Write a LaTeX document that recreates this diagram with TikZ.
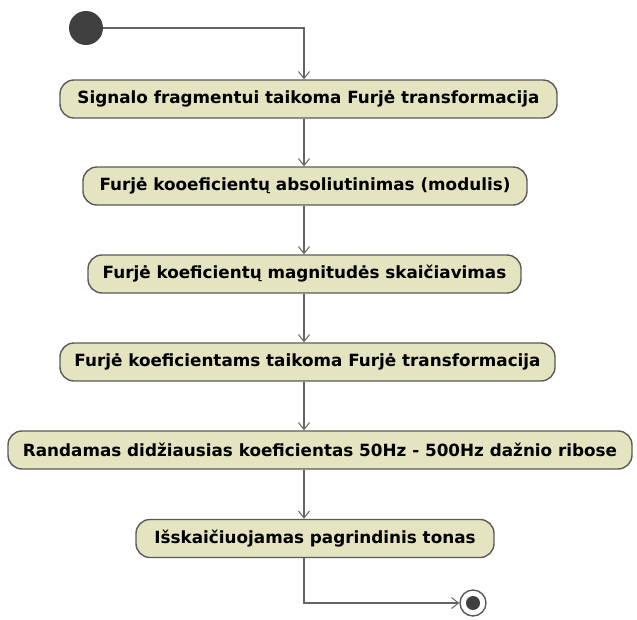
\documentclass[tikz,border=0pt]{standalone}
\usepackage{fontspec}
\setmainfont{DejaVu Sans}
\usetikzlibrary{arrows.meta}
\definecolor{actfill}{RGB}{228,228,192}
\definecolor{actline}{RGB}{90,90,90}
\definecolor{flowline}{RGB}{100,100,100}
\definecolor{dotfill}{RGB}{64,64,64}
\tikzset{
  activity/.style={draw=actline, line width=1.4pt, fill=actfill, rounded corners=14pt,
    minimum height=38pt, inner sep=0pt, font=\bfseries\fontsize{16.8}{20}\selectfont},
  flow/.style={draw=flowline, line width=1.1pt,
    -{Straight Barb[length=7pt,width=11pt,line width=1pt]}},
}
\begin{document}
\begin{tikzpicture}[x=1pt,y=-1pt]
\useasboundingbox (0,0) rectangle (637,619);
\coordinate (col) at (304,0);
\node[circle, fill=dotfill, minimum size=34pt, inner sep=0pt] (start) at (86,28) {};
\node[activity, minimum width=497pt] (b1) at (308.5,99) {Signalo fragmentui taikoma Furjė transformacija};
\node[activity, minimum width=444pt] (b2) at (305,186) {Furjė kooeficientų absoliutinimas (modulis)};
\node[activity, minimum width=433pt] (b3) at (304.5,274) {Furjė koeficientų magnitudės skaičiavimas};
\node[activity, minimum width=495pt] (b4) at (307.5,362) {Furjė koeficientams taikoma Furjė transformacija};
\node[activity, minimum width=624pt] (b5) at (320,450) {Randamas didžiausias koeficientas 50Hz - 500Hz dažnio ribose};
\node[activity, minimum width=358pt] (b6) at (315,538.5) {Išskaičiuojamas pagrindinis tonas};
\node[circle, draw=actline, line width=1.4pt, fill=white, minimum size=26pt, inner sep=0pt] (stop) at (473,603) {};
\node[circle, fill=dotfill, minimum size=14pt, inner sep=0pt] (stopdot) at (stop) {};
\draw[flow] (start.east) -| (b1.north -| col);
\draw[flow] (b1.south -| col) -- (b2.north -| col);
\draw[flow] (b2.south -| col) -- (b3.north -| col);
\draw[flow] (b3.south -| col) -- (b4.north -| col);
\draw[flow] (b4.south -| col) -- (b5.north -| col);
\draw[flow] (b5.south -| col) -- (b6.north -| col);
\draw[flow] (b6.south -| col) |- (stop.west);
\end{tikzpicture}
\end{document}
